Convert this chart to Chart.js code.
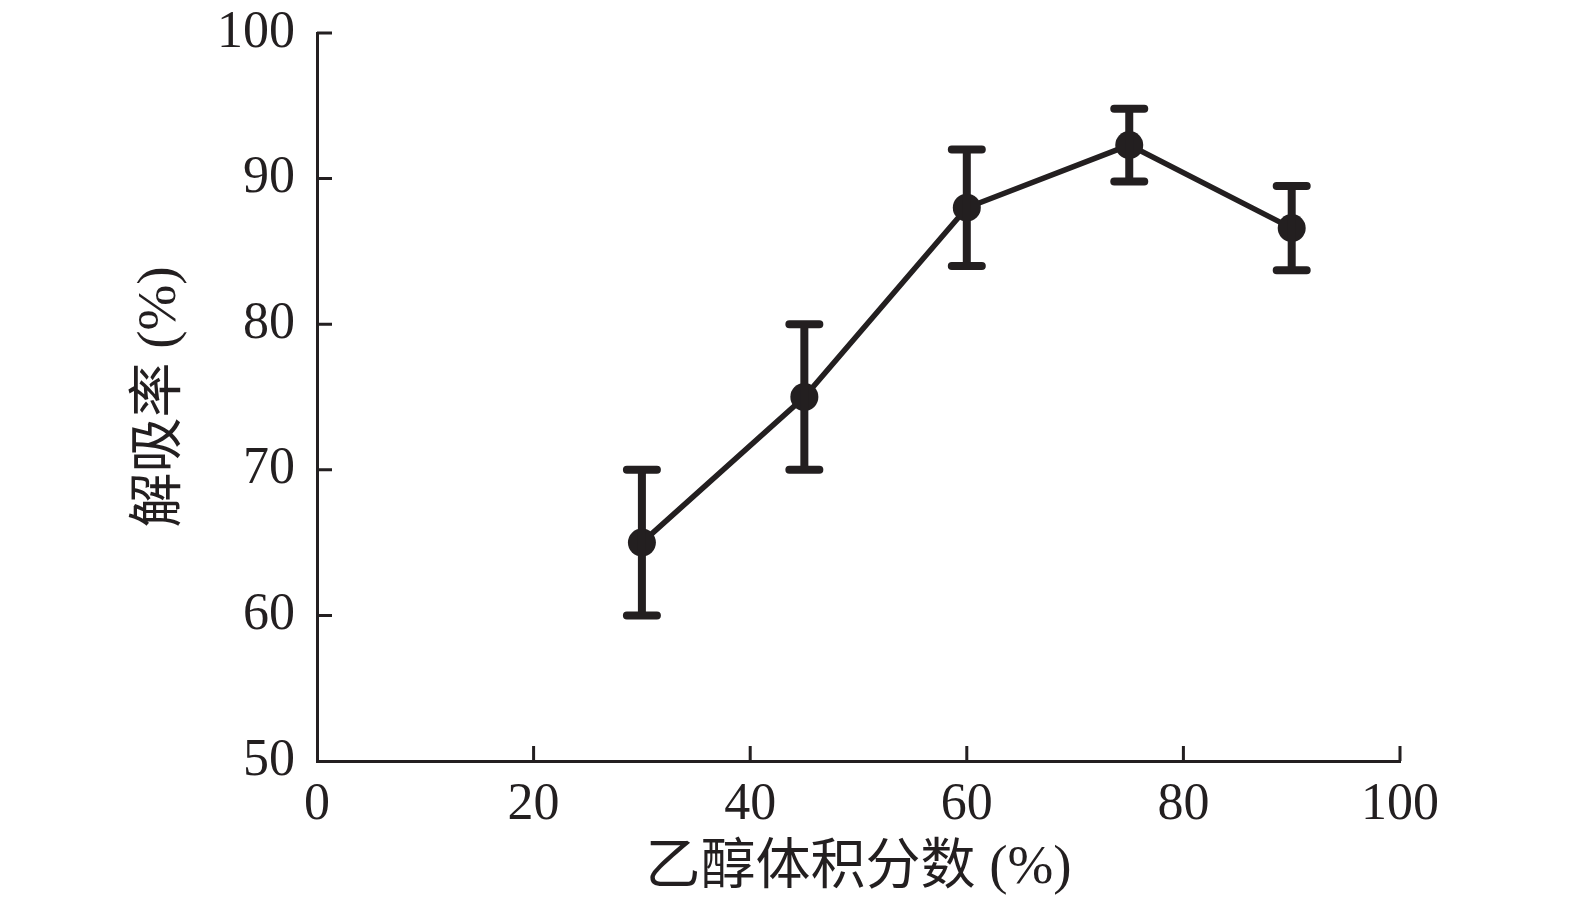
<!DOCTYPE html>
<html>
<head>
<meta charset="utf-8">
<script src="https://cdn.jsdelivr.net/npm/chart.js@4"></script>
<style>
  html, body { margin: 0; padding: 0; background: #fff; }
  #wrap { width: 1575px; height: 907px; }
</style>
</head>
<body>
<div id="wrap"><canvas id="chart"></canvas></div>
<script>
// ethanol volume fraction (%) vs desorption rate (%)
const ethanol = [30, 45, 60, 75, 90];
const desorption = [65, 75, 88, 92.3, 86.6];
const errLow = [60, 70, 84, 89.8, 83.7];
const errHigh = [70, 80, 92, 94.8, 89.5];
const xTicks = [0, 20, 40, 60, 80, 100];
const yTicks = [50, 60, 70, 80, 90, 100];

const ink = '#231f20';
const serif = '"Liberation Serif", "Times New Roman", "Noto Sans CJK SC", serif';

// error bars drawn through the scales
const errorBars = {
    id: 'errorBars',
    afterDatasetsDraw(chart) {
        const { ctx, scales: { x, y } } = chart;
        ctx.save();
        ctx.strokeStyle = ink;
        ctx.lineCap = 'round';
        ctx.lineWidth = 8;
        ethanol.forEach((v, i) => {
            const px = x.getPixelForValue(v);
            const top = y.getPixelForValue(errHigh[i]);
            const bot = y.getPixelForValue(errLow[i]);
            ctx.beginPath();
            ctx.moveTo(px, top);
            ctx.lineTo(px, bot);
            ctx.moveTo(px - 15, top);
            ctx.lineTo(px + 15, top);
            ctx.moveTo(px - 15, bot);
            ctx.lineTo(px + 15, bot);
            ctx.stroke();
        });
        ctx.restore();
    }
};

// tick marks pointing into the plot
const innerTicks = {
    id: 'innerTicks',
    afterDraw(chart) {
        const { ctx, scales: { x, y } } = chart;
        ctx.save();
        ctx.strokeStyle = ink;
        ctx.lineWidth = 3;
        ctx.beginPath();
        xTicks.slice(1).forEach(v => {
            const px = x.getPixelForValue(v);
            ctx.moveTo(px, y.bottom);
            ctx.lineTo(px, y.bottom - 15);
        });
        yTicks.slice(1).forEach(v => {
            const py = y.getPixelForValue(v);
            ctx.moveTo(x.left, py);
            ctx.lineTo(x.left + 15, py);
        });
        ctx.stroke();
        ctx.restore();
    }
};

new Chart(document.getElementById('chart'), {
    type: 'line',
    data: {
        datasets: [{
            data: ethanol.map((v, i) => ({ x: v, y: desorption[i] })),
            borderColor: ink,
            backgroundColor: ink,
            borderWidth: 5.5,
            pointRadius: 14,
            pointHoverRadius: 14,
            pointBackgroundColor: ink,
            pointBorderWidth: 0,
            tension: 0
        }]
    },
    options: {
        responsive: true,
        maintainAspectRatio: false,
        animation: false,
        layout: { padding: { top: 33, right: 175, left: 0, bottom: 0 } },
        plugins: {
            legend: { display: false },
            tooltip: { enabled: false }
        },
        scales: {
            x: {
                type: 'linear',
                min: 0,
                max: 100,
                afterBuildTicks: s => { s.ticks = xTicks.map(v => ({ value: v })); },
                afterFit: s => { s.height = 146; },
                grid: { display: false, drawTicks: false },
                border: { display: true, color: ink, width: 3 },
                ticks: {
                    color: ink,
                    padding: 13,
                    maxRotation: 0,
                    font: { family: serif, size: 52 }
                },
                title: {
                    display: true,
                    text: '乙醇体积分数 (%)',
                    color: ink,
                    padding: { top: 0, bottom: 5 },
                    font: { family: serif, size: 55 }
                }
            },
            y: {
                min: 50,
                max: 100,
                afterBuildTicks: s => { s.ticks = yTicks.map(v => ({ value: v })); },
                afterFit: s => {
                    s.width = 317;
                    s.paddingTop = 0;
                    s.paddingBottom = 0;
                },
                grid: { display: false, drawTicks: false },
                border: { display: true, color: ink, width: 3 },
                ticks: {
                    color: ink,
                    padding: 22,
                    font: { family: serif, size: 52 }
                },
                title: {
                    display: true,
                    text: '解吸率 (%)',
                    color: ink,
                    padding: { top: 128, bottom: 0 },
                    font: { family: serif, size: 55 }
                }
            }
        }
    },
    plugins: [errorBars, innerTicks]
});
</script>
</body>
</html>
